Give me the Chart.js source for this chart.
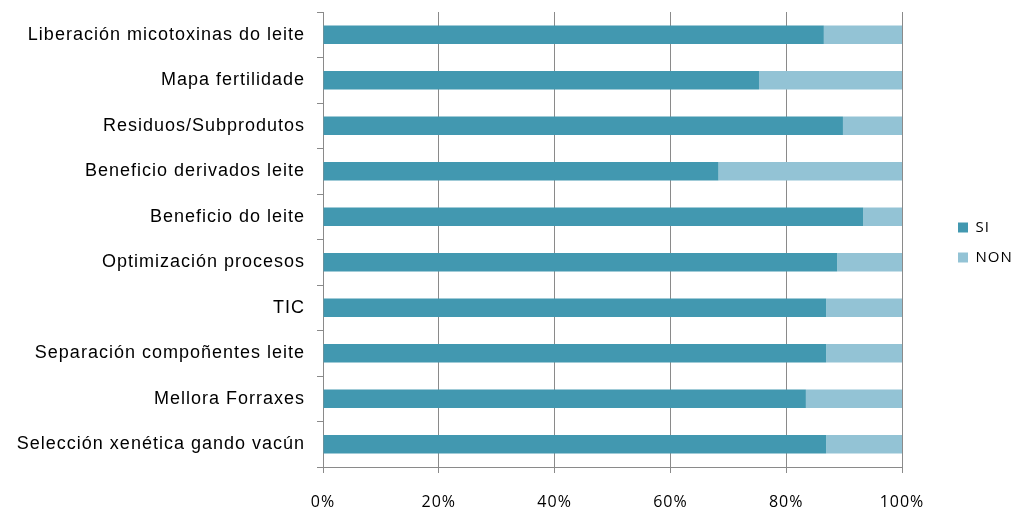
<!DOCTYPE html>
<html>
<head>
<meta charset="utf-8">
<script src="https://cdn.jsdelivr.net/npm/chart.js@4.4.0/dist/chart.umd.min.js"></script>
<style>
  html, body { margin: 0; padding: 0; background: #fff; }
</style>
</head>
<body>
<canvas id="chart" width="1016" height="511"></canvas>
<script>
// categories top to bottom
const categories = [
  'Liberación micotoxinas do leite',
  'Mapa fertilidade',
  'Residuos/Subprodutos',
  'Beneficio derivados leite',
  'Beneficio do leite',
  'Optimización procesos',
  'TIC',
  'Separación compoñentes leite',
  'Mellora Forraxes',
  'Selección xenética gando vacún'
];
const siValues  = [86.5, 75.3, 89.8, 68.3, 93.3, 88.8, 86.9, 86.9, 83.4, 86.9];
const nonValues = [13.5, 24.7, 10.2, 31.7,  6.7, 11.2, 13.1, 13.1, 16.6, 13.1];
const xTicks = [0, 20, 40, 60, 80, 100];

const GRID = '#8a8a8a';

// the original text is a bit loosely spaced
const spacing = {
  id: 'spacing',
  beforeLayout(chart) { chart.ctx.letterSpacing = '1px'; },
  beforeDraw(chart) { chart.ctx.letterSpacing = '1px'; }
};

// legend sits to the right of the plot, boxes a bit away from the last gridline
const legendShift = {
  id: 'legendShift',
  beforeInit(chart) {
    const lg = chart.legend;
    const origFit = lg.fit.bind(lg);
    lg.fit = function () {
      origFit();
      this.width = 114;
    };
  },
  afterLayout(chart) {
    const lg = chart.legend;
    lg.left = chart.chartArea.right + 41;
    lg.right = lg.left + lg.width;
    lg.top += 3;
    lg.bottom += 3;
    lg.adjustHitBoxes();
  }
};

new Chart(document.getElementById('chart'), {
  type: 'bar',
  data: {
    labels: categories,
    datasets: [
      { label: 'SI',  data: siValues,  backgroundColor: '#4298b0', barPercentage: 0.41, categoryPercentage: 1 },
      { label: 'NON', data: nonValues, backgroundColor: '#93c3d5', barPercentage: 0.41, categoryPercentage: 1 }
    ]
  },
  options: {
    indexAxis: 'y',
    responsive: false,
    animation: false,
    devicePixelRatio: 1,
    layout: { padding: { top: 12, left: 0, right: 0, bottom: 0 } },
    scales: {
      x: {
        stacked: true,
        min: 0,
        max: 100,
        afterBuildTicks: (scale) => { scale.ticks = xTicks.map(v => ({ value: v })); },
        afterFit: (scale) => { scale.height = 44; },
        ticks: {
          callback: (v) => v + '%',
          color: '#000',
          padding: 20,
          font: { family: '"Open Sans", sans-serif', size: 16 }
        },
        grid: { color: GRID, lineWidth: 1, tickLength: 6, drawTicks: true },
        border: { color: GRID, width: 1 }
      },
      y: {
        stacked: true,
        afterFit: (scale) => {
          scale.width = 323;
          scale.paddingTop = 0;
          scale.paddingBottom = 0;
        },
        ticks: {
          color: '#000',
          padding: 12,
          font: { family: '"Liberation Sans", Arial, sans-serif', size: 18 }
        },
        grid: { drawOnChartArea: false, offset: true, color: GRID, tickLength: 6 },
        border: { color: GRID, width: 1 }
      }
    },
    plugins: {
      tooltip: { enabled: false },
      legend: {
        position: 'right',
        fullSize: false,
        labels: {
          boxWidth: 10,
          boxHeight: 10,
          padding: 15,
          color: '#000',
          font: { family: '"Open Sans", sans-serif', size: 15 }
        }
      }
    }
  },
  plugins: [spacing, legendShift]
});
</script>
</body>
</html>
